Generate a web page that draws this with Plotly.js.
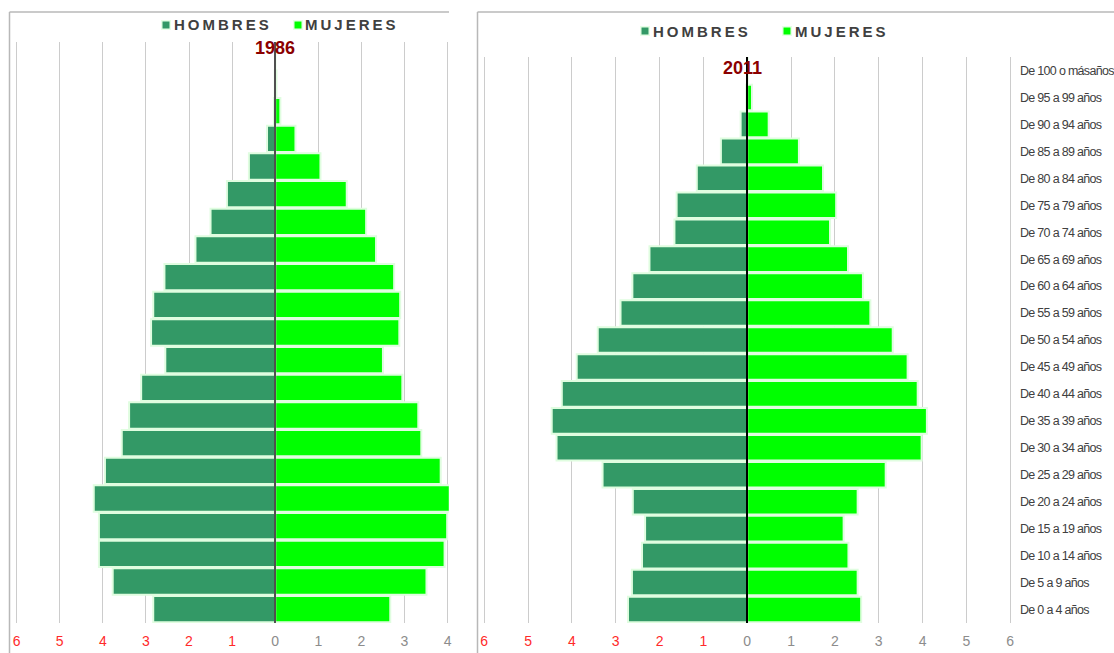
<!DOCTYPE html>
<html>
<head>
<meta charset="utf-8">
<script src="https://cdn.plot.ly/plotly-3.0.1.min.js"></script>
<style>
html,body{margin:0;padding:0;background:#fff;}
#chart{width:1114px;height:653px;}
</style>
</head>
<body>
<div id="chart"></div>
<script>
// ---- data ----
const categories = ['De 0 a 4 años','De 5 a 9 años','De 10 a 14 años','De 15 a 19 años','De 20 a 24 años',
  'De 25 a 29 años','De 30 a 34 años','De 35 a 39 años','De 40 a 44 años','De 45 a 49 años',
  'De 50 a 54 años','De 55 a 59 años','De 60 a 64 años','De 65 a 69 años','De 70 a 74 años',
  'De 75 a 79 años','De 80 a 84 años','De 85 a 89 años','De 90 a 94 años','De 95 a 99 años',
  'De 100 o másaños'];
const hombres1986 = [2.83,3.77,4.09,4.09,4.21,3.95,3.56,3.39,3.11,2.55,2.88,2.83,2.57,1.85,1.50,1.12,0.61,0.19,0.03,0.01,0];
const mujeres1986 = [2.67,3.51,3.93,3.99,4.05,3.84,3.39,3.32,2.95,2.50,2.88,2.90,2.76,2.34,2.11,1.66,1.05,0.47,0.12,0.03,0];
const hombres2011 = [2.72,2.63,2.40,2.33,2.61,3.30,4.35,4.46,4.23,3.89,3.41,2.89,2.62,2.23,1.66,1.61,1.15,0.60,0.15,0.02,0.004];
const mujeres2011 = [2.60,2.52,2.31,2.20,2.52,3.16,3.98,4.10,3.89,3.66,3.32,2.81,2.64,2.30,1.89,2.03,1.73,1.18,0.49,0.11,0.01];
const tickValsLeft = [-6,-5,-4,-3,-2,-1,0,1,2,3,4];
const tickValsRight = [-6,-5,-4,-3,-2,-1,0,1,2,3,4,5,6];
const seriesNames = ['HOMBRES','MUJERES'];
const years = ['1986','2011'];

// ---- style ----
const W = 1114, H = 653;
const cMale = '#339966', cFemale = '#00ff00', cEdge = '#e0fde0';
const FONT = 'Liberation Sans, Arial, sans-serif';
const px = v => v / W, py = v => (H - v) / H;

function tickText(vals){
  return vals.map(v => v < 0 ? '<span style="color:#ff2a2a">' + Math.abs(v) + '</span>' : String(v));
}
function rangeFor(x0, x1, zero, scale){ return [(x0 - zero)/scale, (x1 - zero)/scale]; }

const neg = a => a.map(v => -v);
function bar(x, color, xa, ya, name){
  return {type:'bar', orientation:'h', y:categories, x:x, name:name,
    xaxis:xa, yaxis:ya, marker:{color:color, line:{color:cEdge, width:2}},
    hoverinfo:'skip', showlegend:false};
}
const traces = [
  bar(neg(hombres1986), cMale, 'x', 'y', seriesNames[0]),
  bar(mujeres1986, cFemale, 'x', 'y', seriesNames[1]),
  bar(neg(hombres2011), cMale, 'x2', 'y2', seriesNames[0]),
  bar(mujeres2011, cFemale, 'x2', 'y2', seriesNames[1])
];

function xaxisDef(domPx, zero, scale, vals, zc, zw){
  return {domain:[px(domPx[0]), px(domPx[1])], range:rangeFor(domPx[0], domPx[1], zero, scale),
    tickvals:vals, ticktext:tickText(vals), showgrid:true, gridcolor:'#cccccc', gridwidth:1,
    zeroline:true, zerolinecolor:zc, zerolinewidth:zw, zerolinelayer:'above traces',
    showline:false, ticks:'', ticklabelstandoff:8,
    tickfont:{family:FONT, size:14, color:'#8c8c8c'}, fixedrange:true};
}

const layout = {
  width:W, height:H, margin:{l:0,r:0,t:0,b:0}, paper_bgcolor:'#fff', plot_bgcolor:'rgba(0,0,0,0)',
  barmode:'overlay', bargap:0.05, showlegend:false,
  xaxis: xaxisDef([14,449], 275.2, 43.1, tickValsLeft, '#505050', 2),
  yaxis: {domain:[py(623), py(42)], anchor:'x', type:'category', range:[-0.5,20.5],
    showticklabels:false, showgrid:false, zeroline:false, ticks:'', fixedrange:true},
  xaxis2: xaxisDef([480,1013], 747.2, 43.83, tickValsRight, '#000000', 1.5),
  yaxis2: {domain:[py(623), py(57)], anchor:'x2', side:'right', type:'category', range:[-0.5,20.5],
    tickvals:categories,
    ticktext:categories.map(c => '<span style="letter-spacing:-0.7px">' + c + '</span>'),
    showticklabels:true, showgrid:false, zeroline:false, ticks:'', ticklabelstandoff:6,
    tickfont:{family:FONT, size:12.5, color:'#404040'}, fixedrange:true},
  shapes:[], annotations:[]
};

// panel frames
const frame = {color:'#b8b8b8', width:1.5};
layout.shapes.push({type:'line', xref:'paper', yref:'paper', x0:px(9.5), x1:px(449), y0:py(12), y1:py(12), line:frame});
layout.shapes.push({type:'line', xref:'paper', yref:'paper', x0:px(9.5), x1:px(9.5), y0:py(12), y1:0, line:frame});
layout.shapes.push({type:'line', xref:'paper', yref:'paper', x0:px(477.5), x1:1, y0:py(12), y1:py(12), line:frame});
layout.shapes.push({type:'line', xref:'paper', yref:'paper', x0:px(477.5), x1:px(477.5), y0:py(12), y1:0, line:frame});

// legends
const spaced = s => s.split('').join('\u2009');
function legendItem(sqx, cy, color, label, tx){
  layout.shapes.push({type:'rect', xref:'paper', yref:'paper', x0:px(sqx-5), x1:px(sqx+5), y0:py(cy+5), y1:py(cy-5),
    fillcolor:'#e6ffe6', line:{width:0}});
  layout.shapes.push({type:'rect', xref:'paper', yref:'paper', x0:px(sqx-3.5), x1:px(sqx+3.5), y0:py(cy+3.5), y1:py(cy-3.5),
    fillcolor:color, line:{width:0}});
  layout.annotations.push({xref:'paper', yref:'paper', x:px(tx), y:py(cy), xanchor:'left', yanchor:'middle',
    text:'<b>'+spaced(label)+'</b>', showarrow:false, font:{family:FONT, size:15, color:'#404040'}});
}
legendItem(166, 25, cMale, seriesNames[0], 172);
legendItem(298, 25, cFemale, seriesNames[1], 303);
legendItem(645, 31, cMale, seriesNames[0], 651);
legendItem(787, 31, cFemale, seriesNames[1], 793);

// year titles
layout.annotations.push({xref:'x', yref:'paper', x:0, y:py(48), xanchor:'center', yanchor:'middle',
  text:'<b>'+years[0]+'</b>', showarrow:false, font:{family:FONT, size:18, color:'#8b0000'}});
layout.annotations.push({xref:'x2', yref:'paper', x:-0.1, y:py(68), xanchor:'center', yanchor:'middle',
  text:'<b>'+years[1]+'</b>', showarrow:false, font:{family:FONT, size:18, color:'#8b0000'}});

Plotly.newPlot('chart', traces, layout, {displayModeBar:false, staticPlot:true});
</script>
</body>
</html>
